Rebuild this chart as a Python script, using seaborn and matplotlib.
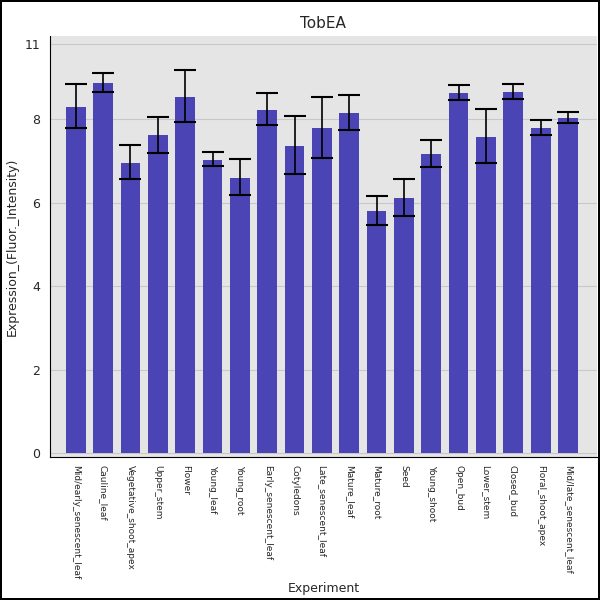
# -*- coding: utf-8 -*-

import numpy as np
import pandas as pd
import seaborn as sns
import matplotlib.pyplot as plt

tissues = ['Mid/early_senescent_leaf', 'Cauline_leaf', 'Vegetative_shoot_apex',
           'Upper_stem', 'Flower', 'Young_leaf', 'Young_root', 'Early_senescent_leaf',
           'Cotyledons', 'Late_senescent_leaf', 'Mature_leaf', 'Mature_root', 'Seed',
           'Young_shoot', 'Open_bud', 'Lower_stem', 'Closed_bud', 'Floral_shoot_apex',
           'Mid/late_senescent_leaf']
expression = [8.30, 8.87, 6.95, 7.63, 8.54, 7.03, 6.59, 8.23, 7.36, 7.79,
              8.15, 5.80, 6.12, 7.17, 8.63, 7.58, 8.66, 7.79, 8.03]
err_high = [8.85, 9.11, 7.39, 8.06, 9.18, 7.22, 7.05, 8.63, 8.08, 8.54,
            8.59, 6.16, 6.57, 7.51, 8.82, 8.25, 8.85, 7.99, 8.18]
err_low = [7.79, 8.66, 6.57, 7.19, 7.94, 6.88, 6.19, 7.87, 6.69, 7.07,
           7.75, 5.47, 5.68, 6.86, 8.47, 6.95, 8.49, 7.63, 7.91]

if __name__ == "__main__":

    master = pd.DataFrame({'Experiment': tissues, 'Expression': expression})

    # grey panel like the original tool output
    sns.set_style("whitegrid", {'axes.facecolor': '#e5e5e5', 'grid.color': '#c8c8c8',
                                'axes.edgecolor': 'black'})

    fig = plt.figure(figsize=(6, 6), dpi=100)
    fig.patch.set_edgecolor('black')
    fig.patch.set_linewidth(1.5)
    ax = fig.add_axes([0.083, 0.238, 0.912, 0.702])
    sns.barplot(data=master, x='Experiment', y='Expression', color='#4b44b4',
                saturation=1, width=0.72, linewidth=0, ax=ax)
    yerr = [np.array(expression) - np.array(err_low), np.array(err_high) - np.array(expression)]
    ax.errorbar(np.arange(len(tissues)), expression, yerr=yerr, fmt='none',
                ecolor='black', elinewidth=1.2, capsize=8, capthick=1.5)
    ax.set_xticks(np.arange(len(tissues)))
    ax.set_xticklabels(tissues, rotation=-90, fontsize=6.5)
    ax.set_xlim([-0.95, 19.06])
    ax.set_yticks([0, 2, 4, 6, 8, 9.8])
    ax.set_yticklabels(['0', '2', '4', '6', '8', '11'])
    ax.set_ylim([-0.1, 10.0])
    ax.spines['top'].set_visible(False)
    ax.spines['right'].set_visible(False)
    ax.tick_params(axis='y', labelsize=9)
    ax.tick_params(axis='x', pad=2)
    plt.ylabel('Expression_(Fluor._Intensity)', fontsize=9)
    plt.xlabel('Experiment', fontsize=9, labelpad=2)
    plt.title('TobEA', fontsize=11)
    plt.savefig('out.png')
